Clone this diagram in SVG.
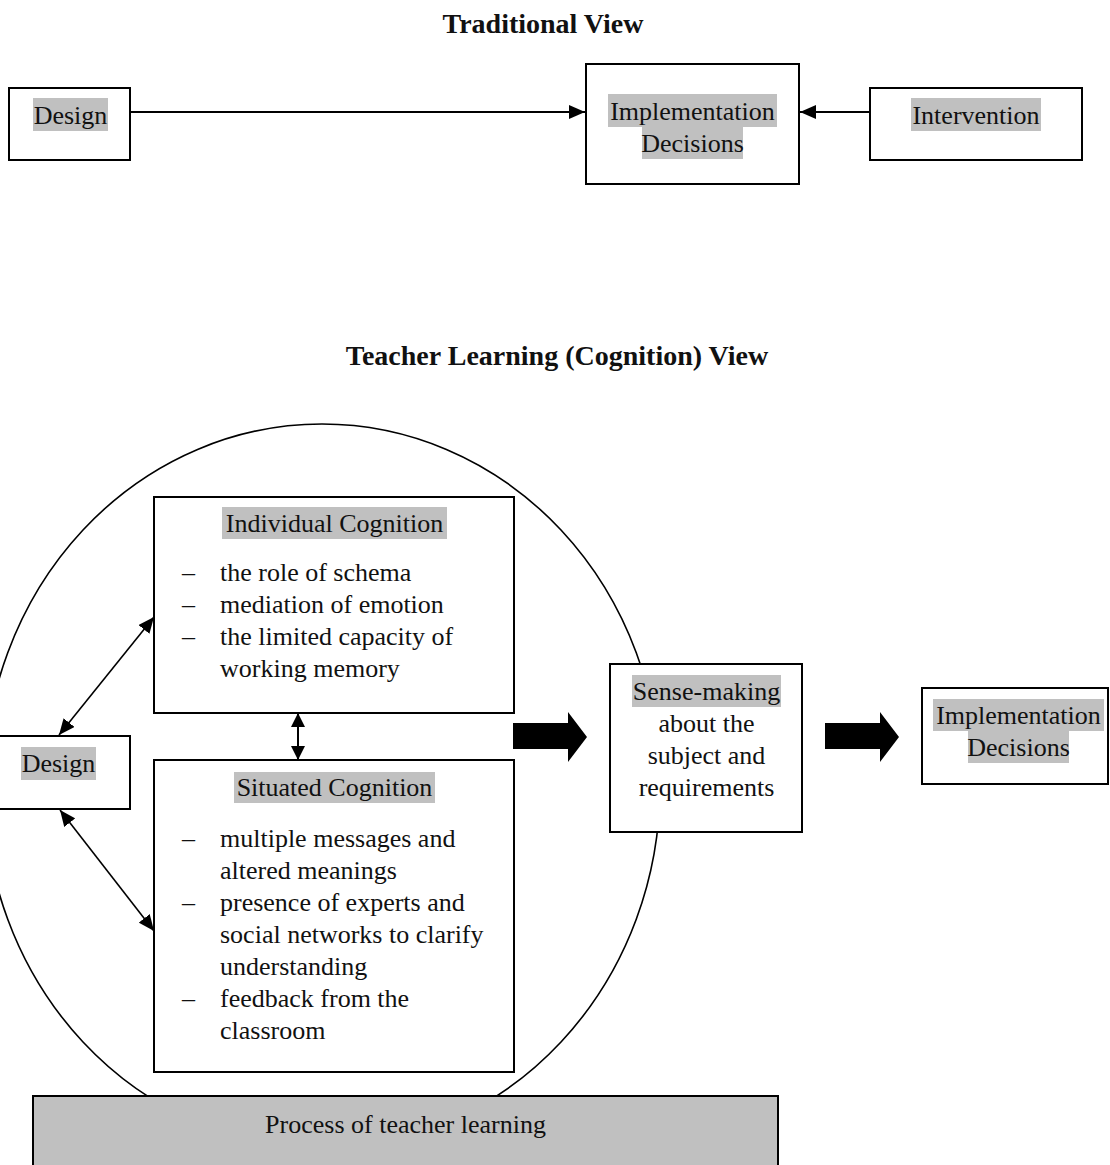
<svg xmlns="http://www.w3.org/2000/svg" width="1110" height="1165" viewBox="0 0 1110 1165">
  <style>
    text { font-family: "Liberation Serif", "Times New Roman", serif; font-size: 26px; fill: #111; }
    .title { font-weight: bold; font-size: 28px; }
    .c { text-anchor: middle; }
    .box { fill: #fff; stroke: #000; stroke-width: 2; }
    .hl { fill: #c0c0c0; }
    .wire { fill: none; stroke: #000; stroke-width: 2; }
    .thin { fill: none; stroke: #000; stroke-width: 1.6; }
    .fat { fill: #000; }
  </style>
  <defs>
    <marker id="head" markerUnits="userSpaceOnUse" markerWidth="16" markerHeight="14" refX="16" refY="7" orient="auto-start-reverse">
      <path d="M0,0 L16,7 L0,14 Z" fill="#000"/>
    </marker>
    <marker id="headSmall" markerUnits="userSpaceOnUse" markerWidth="14" markerHeight="14" refX="14" refY="7" orient="auto-start-reverse">
      <path d="M0,0 L14,7 L0,14 Z" fill="#000"/>
    </marker>
  </defs>

  <rect width="1110" height="1165" fill="#fff"/>

  <!-- ===== Traditional view ===== -->
  <text class="title c" x="543" y="33">Traditional View</text>

  <g id="connectors-traditional">
    <line class="wire" x1="130" y1="112" x2="585" y2="112" marker-end="url(#head)"/>
    <line class="wire" x1="870" y1="112" x2="800" y2="112" marker-end="url(#head)"/>
  </g>

  <g id="trad-design">
    <rect class="box" x="9" y="88" width="121" height="72"/>
    <rect class="hl" x="33" y="98" width="75" height="33"/>
    <text class="c" x="70.5" y="124">Design</text>
  </g>

  <g id="trad-implementation">
    <rect class="box" x="586" y="64" width="213" height="120"/>
    <rect class="hl" x="608" y="94" width="169" height="33"/>
    <rect class="hl" x="642" y="127" width="101" height="32"/>
    <text class="c" x="692.5" y="120">Implementation</text>
    <text class="c" x="692.5" y="152">Decisions</text>
  </g>

  <g id="trad-intervention">
    <rect class="box" x="870" y="88" width="212" height="72"/>
    <rect class="hl" x="911" y="98" width="130" height="33"/>
    <text class="c" x="976" y="124">Intervention</text>
  </g>

  <!-- ===== Teacher learning (cognition) view ===== -->
  <text class="title c" x="557" y="365">Teacher Learning (Cognition) View</text>

  <!-- outer ellipse enclosing the cognition boxes -->
  <g id="learning-cycle">
    <ellipse class="thin" cx="322" cy="786" rx="338" ry="362"/>
  </g>

  <g id="connectors">
    <line class="thin" x1="59" y1="735" x2="154" y2="617" marker-start="url(#head)" marker-end="url(#head)"/>
    <line class="thin" x1="60" y1="810" x2="154" y2="931" marker-start="url(#head)" marker-end="url(#head)"/>
    <line class="wire" x1="298" y1="713" x2="298" y2="760" marker-start="url(#headSmall)" marker-end="url(#headSmall)"/>
    <polygon class="fat" points="513,723 568,723 568,712 587,737 568,762 568,749 513,749"/>
    <polygon class="fat" points="825,723 880,723 880,712 899,737 880,762 880,749 825,749"/>
  </g>

  <g id="individual-cognition">
    <rect class="box" x="154" y="497" width="360" height="216"/>
    <rect class="hl" x="222" y="507" width="225" height="32"/>
    <text class="c" x="334.5" y="532">Individual Cognition</text>
    <text x="182" y="581">–</text><text x="220" y="581">the role of schema</text>
    <text x="182" y="613">–</text><text x="220" y="613">mediation of emotion</text>
    <text x="182" y="645">–</text><text x="220" y="645">the limited capacity of</text>
    <text x="220" y="677">working memory</text>
  </g>

  <g id="situated-cognition">
    <rect class="box" x="154" y="760" width="360" height="312"/>
    <rect class="hl" x="234" y="772" width="201" height="31"/>
    <text class="c" x="334.5" y="796">Situated Cognition</text>
    <text x="182" y="847">–</text><text x="220" y="847">multiple messages and</text>
    <text x="220" y="879">altered meanings</text>
    <text x="182" y="911">–</text><text x="220" y="911">presence of experts and</text>
    <text x="220" y="943">social networks to clarify</text>
    <text x="220" y="975">understanding</text>
    <text x="182" y="1007">–</text><text x="220" y="1007">feedback from the</text>
    <text x="220" y="1039">classroom</text>
  </g>

  <g id="design">
    <rect class="box" x="-2" y="736" width="132" height="73"/>
    <rect class="hl" x="21" y="747" width="75" height="33"/>
    <text class="c" x="58.5" y="772">Design</text>
  </g>

  <g id="sense-making">
    <rect class="box" x="610" y="664" width="192" height="168"/>
    <rect class="hl" x="632" y="675" width="149" height="32"/>
    <text class="c" x="706.5" y="700">Sense-making</text>
    <text class="c" x="706.5" y="732">about the</text>
    <text class="c" x="706.5" y="764">subject and</text>
    <text class="c" x="706.5" y="796">requirements</text>
  </g>

  <g id="implementation-decisions">
    <rect class="box" x="922" y="688" width="186" height="96"/>
    <rect class="hl" x="933" y="699" width="171" height="32"/>
    <rect class="hl" x="968" y="731" width="101" height="32"/>
    <text class="c" x="1018.5" y="724">Implementation</text>
    <text class="c" x="1018.5" y="756">Decisions</text>
  </g>

  <g id="process">
    <rect x="33" y="1096" width="745" height="80" fill="#c0c0c0" stroke="#000" stroke-width="2"/>
    <text class="c" x="405.5" y="1133">Process of teacher learning</text>
  </g>
</svg>
